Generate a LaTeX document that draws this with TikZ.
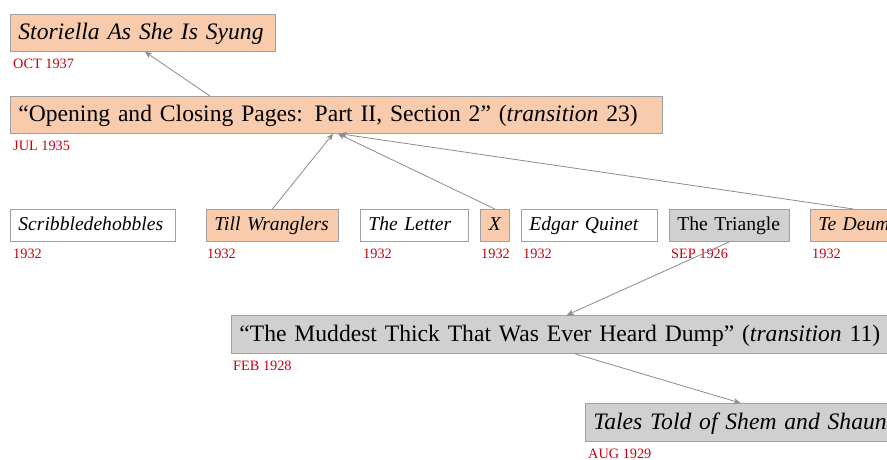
\documentclass[tikz,border=0pt]{standalone}
\usepackage{fontspec}
\setmainfont{Liberation Serif}
\usetikzlibrary{arrows.meta,calc}
\definecolor{peach}{HTML}{F8CBAD}
\definecolor{boxgray}{HTML}{D0D0D0}
\definecolor{edgegray}{HTML}{A0A0A0}
\definecolor{datered}{HTML}{C8000F}
\definecolor{arrgray}{HTML}{8C8C8C}
\begin{document}
\begin{tikzpicture}[x=1pt,y=-1pt,
  box/.style={draw=edgegray, line width=0.8pt, anchor=north west, inner xsep=8pt, inner ysep=0pt, align=left, text=black},
  obox/.style={box, fill=peach},
  gbox/.style={box, fill=boxgray},
  wbox/.style={box, fill=white},
  big/.style={font=\fontsize{23.6}{27}\selectfont, minimum height=37pt, text height=17.7pt, text depth=3.7pt},
  mid/.style={font=\fontsize{19.6}{22}\selectfont, minimum height=32pt, text height=14.7pt, text depth=3.7pt},
  date/.style={anchor=west, text=datered, font=\fontsize{14.3}{16}\selectfont, inner sep=0pt},
  arr/.style={draw=arrgray, line width=0.8pt, -{Stealth[length=7pt,width=6pt]}}]
\clip (0,0) rectangle (887,460);
\fill[white] (0,0) rectangle (887,460);

\node[obox,big,text width=249pt] (sto) at (10,14) {\mbox{\itshape Storiella As She Is Syung}};
\node[obox,big,text width=636pt] (open) at (10,96) {\mbox{“Opening and Closing Pages: Part II, Section 2” (\textit{transition} 23)}};

\node[wbox,mid,text width=149pt] (scr) at (10,209) {\mbox{\itshape Scribbledehobbles}};
\node[obox,mid,text width=116pt] (till) at (206,209) {\mbox{\itshape Till Wranglers}};
\node[wbox,mid,text width=92pt] (let) at (360,209) {\mbox{\itshape The Letter}};
\node[obox,mid,text width=13pt,align=center] (x) at (480,209) {\mbox{\itshape X}};
\node[wbox,mid,text width=120pt] (edg) at (521,209) {\mbox{\itshape Edgar Quinet}};
\node[gbox,mid,text width=104pt] (tri) at (669,209) {\mbox{The Triangle}};
\node[obox,mid,text width=70pt] (ted) at (810,209) {\mbox{\itshape Te Deum}};

\node[gbox,big,minimum height=38pt,text width=648pt] (mud) at (231,315) {\mbox{“The Muddest Thick That Was Ever Heard Dump” (\textit{transition} 11)}};
\node[gbox,big,minimum height=38pt,text width=294pt] (tal) at (585,403) {\mbox{\itshape Tales Told of Shem and Shaun}};

\node[date] (dsto) at ([xshift=3pt,yshift=-12.5pt]sto.south west) {OCT 1937};
\node[date] (dopen) at ([xshift=3pt,yshift=-12.5pt]open.south west) {JUL 1935};
\node[date] (dscr) at ([xshift=3pt,yshift=-12.5pt]scr.south west) {1932};
\node[date] (dtill) at ([xshift=1pt,yshift=-12.5pt]till.south west) {1932};
\node[date] (dlet) at ([xshift=3pt,yshift=-12.5pt]let.south west) {1932};
\node[date] (dx) at ([xshift=1pt,yshift=-12.5pt]x.south west) {1932};
\node[date] (dedg) at ([xshift=2pt,yshift=-12.5pt]edg.south west) {1932};
\node[date] (dtri) at ([xshift=2pt,yshift=-12.5pt]tri.south west) {SEP 1926};
\node[date] (dted) at ([xshift=2pt,yshift=-12.5pt]ted.south west) {1932};
\node[date] (dmud) at ([xshift=2pt,yshift=-12.5pt]mud.south west) {FEB 1928};
\node[date] (dtal) at ([xshift=3pt,yshift=-12pt]tal.south west) {AUG 1929};

\draw[arr] ([xshift=200pt]open.north west) -- ([xshift=135pt]sto.south west);
\draw[arr] (till.north) -- ([xshift=323pt]open.south west);
\draw[arr] (x.north) -- ([xshift=328pt]open.south west);
\draw[arr] (ted.north) -- ([xshift=330pt]open.south west);
\draw[arr] (tri.south) -- ([xshift=336pt]mud.north west);
\draw[arr] ([xshift=344pt]mud.south west) -- (tal.north);
\end{tikzpicture}
\end{document}
